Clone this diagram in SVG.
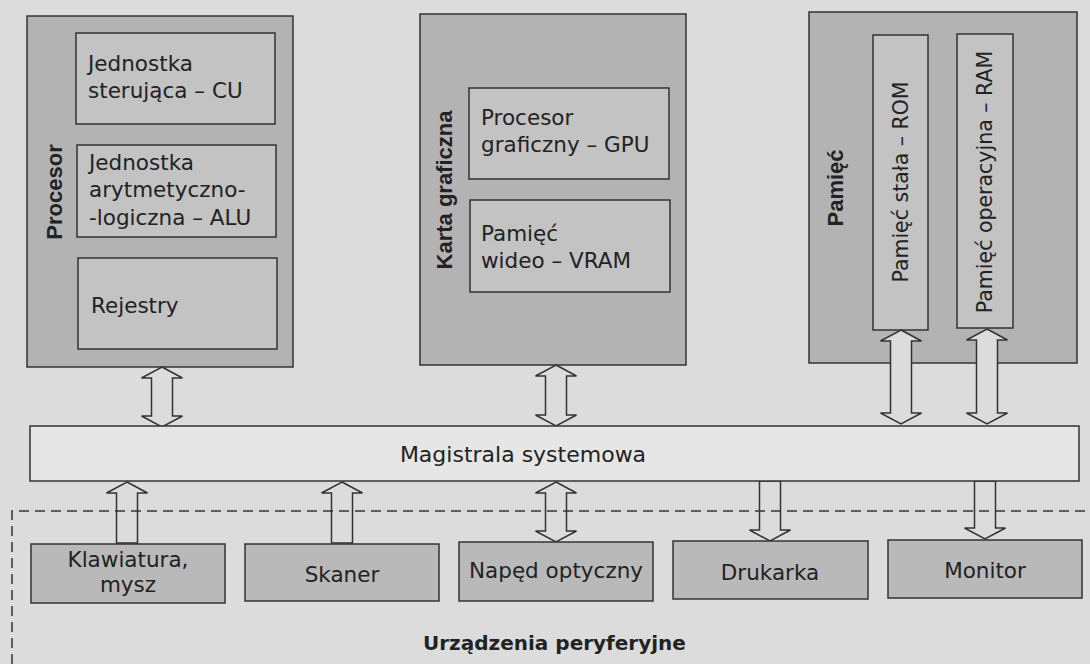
<svg xmlns="http://www.w3.org/2000/svg" width="1090" height="664" viewBox="0 0 1090 664">
<style>
.bg{fill:#dcdcdc}
.outer{fill:#b3b3b3;stroke:#333;stroke-width:1.5}
.inner{fill:#c3c3c3;stroke:#333;stroke-width:1.5}
.bus{fill:#e6e6e6;stroke:#333;stroke-width:1.5}
.per{fill:#b9b9b9;stroke:#333;stroke-width:1.5}
.arr{fill:#dcdcdc;stroke:#333;stroke-width:1.5;stroke-linejoin:miter}
.dash{fill:none;stroke:#333;stroke-width:1.5;stroke-dasharray:10 6}
.t{font-family:"DejaVu Sans","Liberation Sans",sans-serif;font-size:21.5px;fill:#222}
.tv{font-family:"DejaVu Sans","Liberation Sans",sans-serif;font-size:20.5px;fill:#222;text-anchor:middle}
.lb{font-family:"Liberation Sans",Arial,sans-serif;font-weight:bold;font-size:22px;fill:#222;text-anchor:middle}
.c{text-anchor:middle}
</style>
<rect class="bg" x="0" y="0" width="1090" height="664"/>

<g id="procesor">
<rect class="outer" x="27" y="16" width="266" height="351"/>
<text class="lb" transform="translate(62,192) rotate(-90)">Procesor</text>
<g id="cu"><rect class="inner" x="76" y="33" width="199" height="91"/>
<text class="t" x="88" y="71">Jednostka</text><text class="t" x="88" y="98">sterująca – CU</text></g>
<g id="alu"><rect class="inner" x="77" y="145" width="199" height="92"/>
<text class="t" x="89" y="170">Jednostka</text><text class="t" x="89" y="197">arytmetyczno-</text><text class="t" x="89" y="225">-logiczna – ALU</text></g>
<g id="rejestry"><rect class="inner" x="78" y="258" width="199" height="91"/>
<text class="t" x="91" y="313">Rejestry</text></g>
</g>

<g id="karta">
<rect class="outer" x="420" y="14" width="266" height="351"/>
<text class="lb" transform="translate(452,190) rotate(-90)">Karta graficzna</text>
<g id="gpu"><rect class="inner" x="469" y="88" width="200" height="91"/>
<text class="t" x="481" y="125">Procesor</text><text class="t" x="481" y="152">graficzny – GPU</text></g>
<g id="vram"><rect class="inner" x="470" y="200" width="200" height="92"/>
<text class="t" x="481" y="241">Pamięć</text><text class="t" x="481" y="268">wideo – VRAM</text></g>
</g>

<g id="pamiec">
<rect class="outer" x="809" y="12" width="268" height="351"/>
<text class="lb" transform="translate(843,188) rotate(-90)">Pamięć</text>
<g id="rom"><rect class="inner" x="873" y="35" width="55" height="295"/>
<text class="tv" transform="translate(908,182) rotate(-90)">Pamięć stała – ROM</text></g>
<g id="ram"><rect class="inner" x="957" y="34" width="56" height="294"/>
<text class="tv" transform="translate(992,182) rotate(-90)">Pamięć operacyjna – RAM</text></g>
</g>

<g id="connectors">
<polygon class="arr" points="162,367 182.5,378 172.5,378 172.5,416 182.5,416 162,427 141.5,416 151.5,416 151.5,378 141.5,378"/>
<polygon class="arr" points="556,365 576.5,376 566.5,376 566.5,415 576.5,415 556,426 535.5,415 545.5,415 545.5,376 535.5,376"/>
<polygon class="arr" points="901,330 921.5,341 911.5,341 911.5,413 921.5,413 901,424 880.5,413 890.5,413 890.5,341 880.5,341"/>
<polygon class="arr" points="987,329 1007.5,340 997.5,340 997.5,413 1007.5,413 987,424 966.5,413 976.5,413 976.5,340 966.5,340"/>
<polygon class="arr" points="127,482 147.5,493 137.5,493 137.5,543 116.5,543 116.5,493 106.5,493"/>
<polygon class="arr" points="342,482 362.5,493 352.5,493 352.5,543 331.5,543 331.5,493 321.5,493"/>
<polygon class="arr" points="556,482 576.5,493 566.5,493 566.5,531 576.5,531 556,542 535.5,531 545.5,531 545.5,493 535.5,493"/>
<polygon class="arr" points="759.5,481 780.5,481 780.5,530 790.5,530 770,541 749.5,530 759.5,530"/>
<polygon class="arr" points="974.5,481 995.5,481 995.5,528 1005.5,528 985,539 964.5,528 974.5,528"/>
</g>

<g id="magistrala">
<rect class="bus" x="30" y="426" width="1049" height="55"/>
<text class="t c" x="523" y="462" style="font-size:22px">Magistrala systemowa</text>
</g>

<g id="peryferia">
<path class="dash" d="M12,664 V511 H1090"/>
<g id="klawiatura"><rect class="per" x="31" y="544" width="194" height="59"/>
<text class="t c" x="128" y="567">Klawiatura,</text><text class="t c" x="128" y="592">mysz</text></g>
<g id="skaner"><rect class="per" x="245" y="544" width="194" height="57"/>
<text class="t c" x="342" y="582">Skaner</text></g>
<g id="naped"><rect class="per" x="459" y="542" width="194" height="59"/>
<text class="t c" x="556" y="578">Napęd optyczny</text></g>
<g id="drukarka"><rect class="per" x="673" y="541" width="195" height="58"/>
<text class="t c" x="770" y="580">Drukarka</text></g>
<g id="monitor"><rect class="per" x="888" y="540" width="194" height="58"/>
<text class="t c" x="985" y="578">Monitor</text></g>
<text x="423" y="650" style="font-family:'DejaVu Sans','Liberation Sans',sans-serif;font-weight:bold;font-size:20px;fill:#222">Urządzenia peryferyjne</text>
</g>
</svg>
